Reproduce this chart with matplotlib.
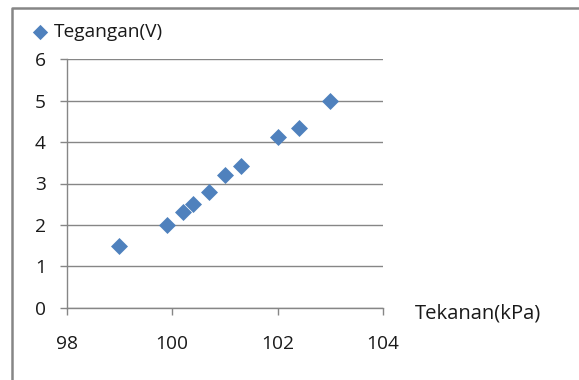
import matplotlib.pyplot as plt
from matplotlib.lines import Line2D

# Data
tekanan = [99.0, 99.9, 100.2, 100.4, 100.7, 101.0, 101.3, 102.0, 102.4, 103.0]
tegangan = [1.5, 2.0, 2.3, 2.5, 2.8, 3.2, 3.43, 4.12, 4.35, 5.0]
x_ticks = [98, 100, 102, 104]
y_ticks = [0, 1, 2, 3, 4, 5, 6]

blue = "#4F81BD"
grey = "#868686"
fs = 13.8

plt.rcParams['font.family'] = ['Open Sans', 'DejaVu Sans']

W, H = 579, 380
fig = plt.figure(figsize=(W / 100, H / 100), dpi=100)

# axes box in pixel terms
left, right, top, bottom = 66.7, 383, 59.3, 307.7
ax = fig.add_axes([left / W, 1 - bottom / H, (right - left) / W, (bottom - top) / H])

ax.scatter(tekanan, tegangan, marker="D", s=75, color=blue, zorder=3,
           linewidths=0, label="Tegangan(V)")

ax.set_xlim(98, 104)
ax.set_ylim(0, 6)
ax.set_xticks(x_ticks)
ax.set_yticks(y_ticks)

# horizontal gridlines only
ax.yaxis.grid(True, color=grey, linewidth=1.0)
ax.set_axisbelow(True)

for s in ["top", "right"]:
    ax.spines[s].set_visible(False)
for s in ["left", "bottom"]:
    ax.spines[s].set_color(grey)
    ax.spines[s].set_linewidth(1.0)

ax.tick_params(axis="x", direction="out", length=5, width=1, color=grey,
               pad=15, labelsize=fs, labelcolor="#1a1a1a")
ax.tick_params(axis="y", direction="out", length=5, width=1, color=grey,
               pad=10, labelsize=fs, labelcolor="#1a1a1a")

# axis title sits right of the x-axis end
fig.text(415 / W, 1 - 313 / H, "Tekanan(kPa)", fontsize=14.6, color="#1a1a1a",
         ha="left", va="center")

# legend at top left
leg = fig.legend(loc="center left", bbox_to_anchor=(32.5 / W, 1 - 32 / H),
                 frameon=False, fontsize=fs, handlelength=0.8, handletextpad=0.3,
                 borderaxespad=0, borderpad=0, markerscale=0.9)
for t in leg.get_texts():
    t.set_color("#1a1a1a")

# chart area border (left and top visible)
fig.add_artist(Line2D([12 / W, 12 / W, 1.0], [0.0, 1 - 7.5 / H, 1 - 7.5 / H],
                      transform=fig.transFigure, color=grey, linewidth=1.8))

fig.savefig("out.png", dpi=100)
